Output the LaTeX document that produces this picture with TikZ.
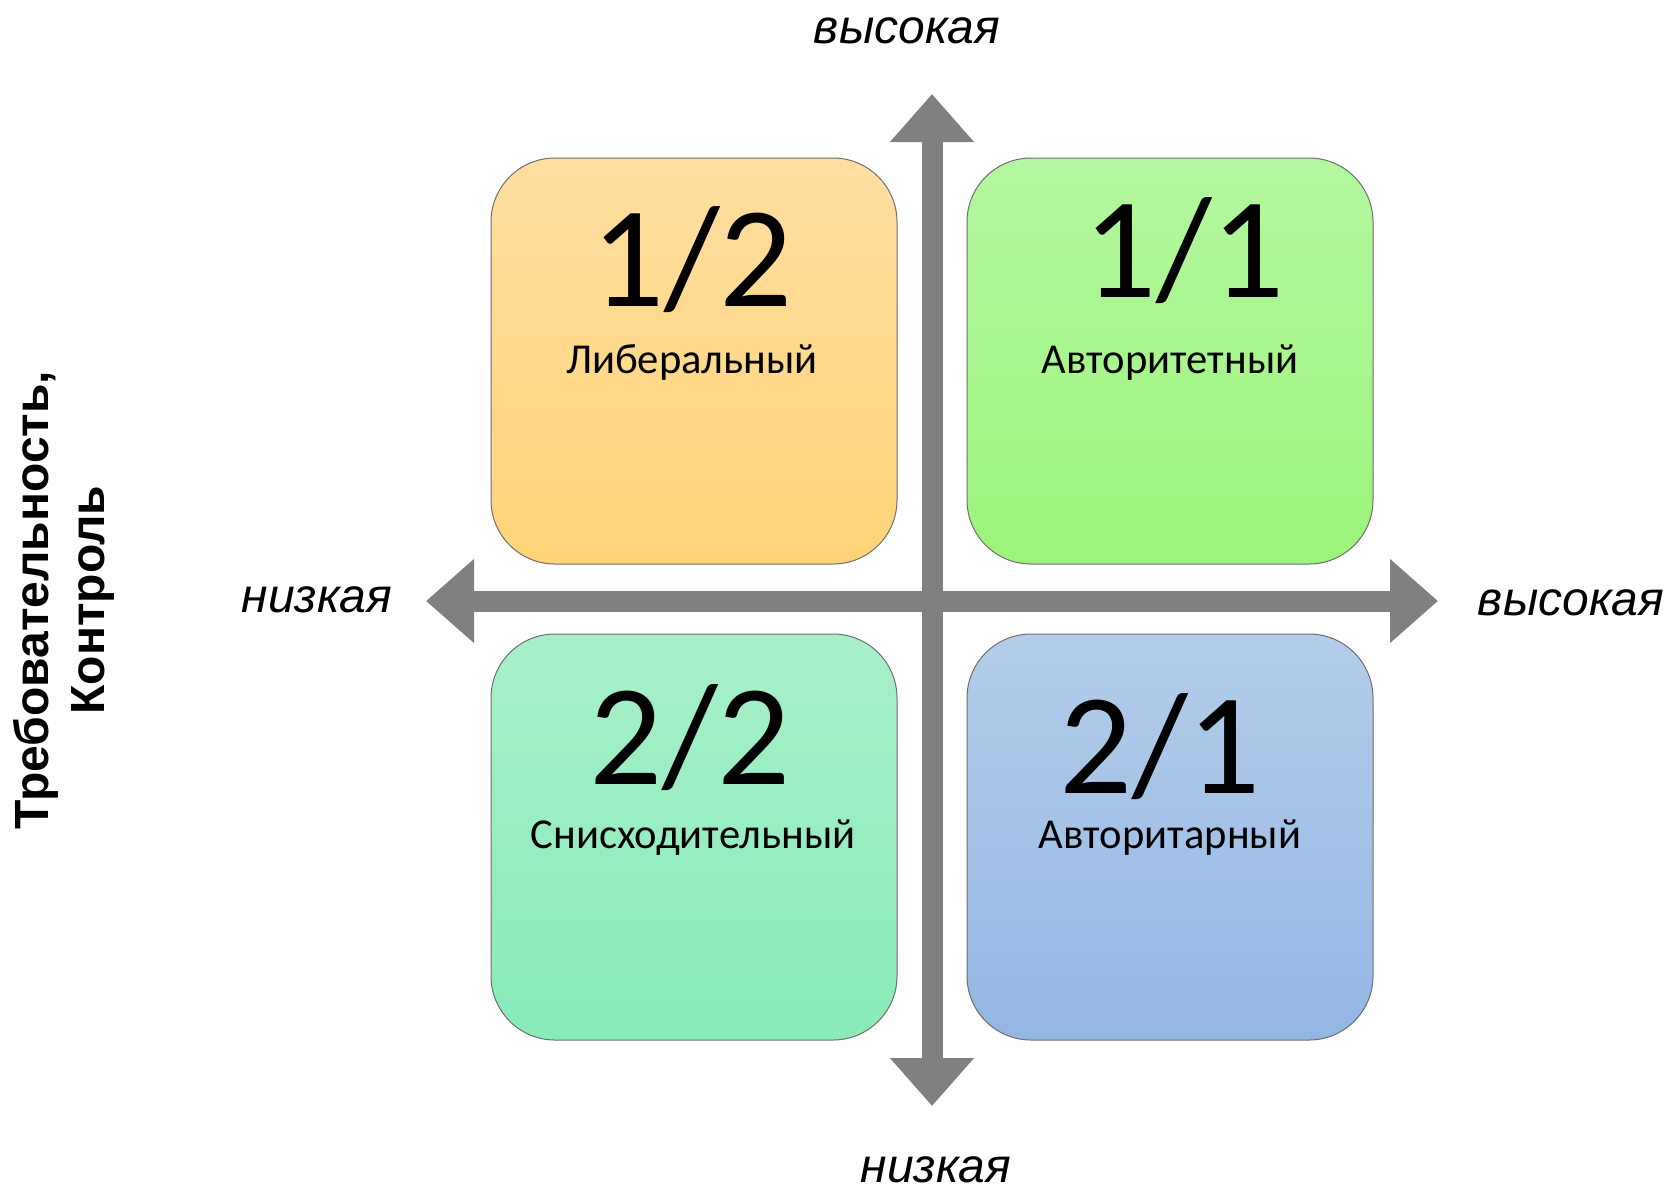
\documentclass[tikz,border=0pt]{standalone}
\usepackage{fontspec}
\setmainfont{Carlito}
\newfontfamily\arialfont{Liberation Sans}
\usetikzlibrary{arrows.meta}
\definecolor{axisgray}{RGB}{128,128,128}
\definecolor{rimgray}{RGB}{110,110,110}
\definecolor{libtop}{RGB}{255,222,160}
\definecolor{libbot}{RGB}{255,212,120}
\definecolor{avttop}{RGB}{180,247,160}
\definecolor{avtbot}{RGB}{155,244,122}
\definecolor{snitop}{RGB}{168,240,202}
\definecolor{snibot}{RGB}{136,235,184}
\definecolor{avrtop}{RGB}{180,205,234}
\definecolor{avrbot}{RGB}{146,183,227}
\tikzset{
quad/.style={draw=rimgray,line width=0.5pt,rounded corners=32pt,minimum width=203pt,minimum height=203pt,inner sep=0pt},
num/.style={anchor=base,inner sep=0pt,text depth=0pt,font=\fontsize{72}{72}\selectfont},
lbl/.style={anchor=base,inner sep=0pt,font=\fontsize{21.3}{22}\selectfont},
axis/.style={line width=10.5pt,draw=axisgray,{Triangle[length=24pt,width=40.5pt]}-{Triangle[length=24pt,width=40.5pt]}},
axlbl/.style={anchor=base,inner sep=0pt,font=\arialfont\itshape\fontsize{24}{24}\selectfont}
}
\begin{document}
\begin{tikzpicture}[x=0.5pt,y=-0.5pt]
\useasboundingbox[fill=white] (0,0) rectangle (1674,1191);
\node[quad,top color=libtop,bottom color=libbot] (lib) at (694,361) {};
\node[quad,top color=avttop,bottom color=avtbot] (avt) at (1170,361) {};
\node[quad,top color=snitop,bottom color=snibot] (sni) at (694,837) {};
\node[quad,top color=avrtop,bottom color=avrbot] (avr) at (1170,837) {};
\coordinate (W) at (426,601);
\coordinate (E) at (1438,601);
\coordinate (N) at (932,94);
\coordinate (S) at (932,1106);
\draw[axis] (W) -- (E);
\draw[axis] (S) -- (N);
\node[num] (libnum) at (692,306) {1/2};
\node[lbl] (libtxt) at (692,373) {Либеральный};
\node[num] (avtnum) at (1184,297) {1/1};
\node[lbl] (avttxt) at (1170,373) {Авторитетный};
\node[num] (sninum) at (690,784) {2/2};
\node[lbl] (snitxt) at (693,848) {Снисходительный};
\node[num] (avrnum) at (1160,793) {2/1};
\node[lbl] (avrtxt) at (1170,848) {Авторитарный};
\node[axlbl] (ntop) at (907,43) {высокая};
\node[axlbl] (nright) at (1571,615) {высокая};
\node[axlbl] (nleft) at (317,612) {низкая};
\node[axlbl] (nbot) at (936,1182) {низкая};
\node[rotate=90,align=center,inner sep=0pt,font=\arialfont\bfseries\fontsize{24}{28}\selectfont] (ctrl) at (64,600) {Требовательность,\\Контроль};
\end{tikzpicture}
\end{document}
